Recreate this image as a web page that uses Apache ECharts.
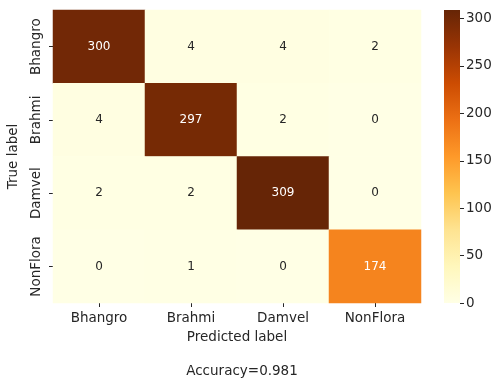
<!DOCTYPE html>
<html>
<head>
<meta charset="utf-8">
<script src="https://cdn.jsdelivr.net/npm/echarts@6/dist/echarts.min.js"></script>
<style>
html, body { margin: 0; padding: 0; background: #fff; }
#main { width: 493px; height: 379px; }
</style>
</head>
<body>
<div id="main"></div>
<script>
// 类别
var predLabels = ['Bhangro', 'Brahmi', 'Damvel', 'NonFlora'];
var trueLabels = ['Bhangro', 'Brahmi', 'Damvel', 'NonFlora'];
// 混淆矩阵, 每行一个真实类别
var rowBhangro = [300, 4, 4, 2];
var rowBrahmi = [4, 297, 2, 0];
var rowDamvel = [2, 2, 309, 0];
var rowNonFlora = [0, 1, 0, 174];
var colorbarTicks = [0, 50, 100, 150, 200, 250, 300];
var accuracy = '0.981';

var rows = [rowBhangro, rowBrahmi, rowDamvel, rowNonFlora];
var ylorbr = ['#ffffe5', '#fff7bc', '#fee391', '#fec44f', '#fe9929', '#ec7014', '#cc4c02', '#993404', '#662506'];
var vmax = 309;
var font = 'DejaVu Sans';
var textColor = '#262626';
var labelSize = 13.5;

var data = [];
for (var i = 0; i < rows.length; i++) {
	for (var j = 0; j < rows[i].length; j++) {
		var v = rows[i][j];
		data.push({
			value: [j, i, v],
			label: { color: v > 100 ? '#ffffff' : textColor }
		});
	}
}

var stops = [];
for (var k = 0; k < ylorbr.length; k++) {
	stops.push({ offset: 1 - k / (ylorbr.length - 1), color: ylorbr[k] });
}

var mycharts = echarts.init(document.getElementById('main'), null, { renderer: 'canvas' });
var option = {
	animation: false,
	backgroundColor: '#ffffff',
	textStyle: { fontFamily: font },
	title: {
		text: 'Accuracy=' + accuracy,
		left: 237,
		top: 359,
		textAlign: 'center',
		textStyle: { fontFamily: font, fontSize: labelSize, fontWeight: 'normal', color: textColor }
	},
	grid: [
		{ left: 53, top: 10, width: 368, height: 293, outerBoundsMode: 'none' },
		{ left: 444, top: 10, width: 16, height: 293, outerBoundsMode: 'none' }
	],
	xAxis: [{
		gridIndex: 0,
		type: 'category',
		data: predLabels,
		name: 'Predicted label',
		nameLocation: 'middle',
		nameGap: 27,
		nameTextStyle: { fontFamily: font, fontSize: labelSize, color: textColor },
		axisLine: { show: false },
		axisTick: { show: true, alignWithLabel: true, length: 4, lineStyle: { color: textColor } },
		axisLabel: { fontFamily: font, fontSize: labelSize, color: textColor, margin: 8, interval: 0 },
		splitLine: { show: false }
	}, {
		gridIndex: 1,
		type: 'category',
		data: [''],
		show: false
	}],
	yAxis: [{
		gridIndex: 0,
		type: 'category',
		data: trueLabels,
		inverse: true,
		name: 'True label',
		nameLocation: 'middle',
		nameGap: 33,
		nameRotate: 90,
		nameTextStyle: { fontFamily: font, fontSize: labelSize, color: textColor },
		axisLine: { show: false },
		axisTick: { show: true, alignWithLabel: true, length: 4, lineStyle: { color: textColor } },
		axisLabel: {
			fontFamily: font, fontSize: labelSize, color: textColor,
			rotate: 90, margin: 10, interval: 0,
			align: 'center', verticalAlign: 'bottom', hideOverlap: false
		},
		splitLine: { show: false }
	}, {
		gridIndex: 1,
		type: 'value',
		position: 'right',
		min: 0,
		max: vmax,
		interval: 50,
		axisLine: { show: false },
		axisTick: { show: true, length: 4, lineStyle: { color: textColor } },
		axisLabel: {
			fontFamily: font, fontSize: labelSize, color: textColor, margin: 6,
			showMaxLabel: false,
			formatter: function (v) { return colorbarTicks.indexOf(v) > -1 ? String(v) : ''; }
		},
		splitLine: { show: false }
	}],
	visualMap: {
		show: false,
		seriesIndex: 0,
		min: 0,
		max: vmax,
		dimension: 2,
		inRange: { color: ylorbr }
	},
	series: [{
		type: 'heatmap',
		xAxisIndex: 0,
		yAxisIndex: 0,
		data: data,
		label: { show: true, fontFamily: font, fontSize: 12 },
		emphasis: { disabled: true }
	}, {
		type: 'bar',
		xAxisIndex: 1,
		yAxisIndex: 1,
		barWidth: '100%',
		data: [vmax],
		itemStyle: { color: new echarts.graphic.LinearGradient(0, 0, 0, 1, stops) },
		silent: true
	}]
};
mycharts.setOption(option);
</script>
</body>
</html>
